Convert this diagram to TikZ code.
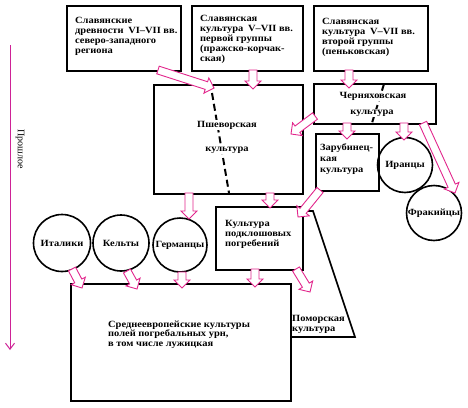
\documentclass[tikz,border=0pt]{standalone}
\usepackage{fontspec}
\setmainfont{Liberation Serif}
\newfontfamily\labfont[FakeStretch=1.1]{Liberation Serif}
\usetikzlibrary{calc,arrows.meta}
\definecolor{arr}{RGB}{226,38,140}
\definecolor{tlc}{RGB}{206,34,150}
\tikzset{
  lab/.style={font=\labfont\fontsize{9.5}{10}\selectfont\bfseries},
  box/.style={draw, line width=1.6pt, inner sep=0pt, anchor=north west},
  circ/.style={draw, circle, line width=1.6pt, inner sep=0pt, lab},
  txt/.style={inner sep=0pt, align=left, anchor=north west, lab},
  ctxt/.style={inner sep=1pt, fill=white, lab},
  barrow/.style={draw=arr, fill=white, line width=0.9pt, line join=miter},
  dashline/.style={line width=2pt, dash pattern=on 7pt off 4pt},
  timeline/.style={draw=tlc, line width=1pt, -{Straight Barb[length=6pt,width=9pt]}},
}
\newcommand\blockarrow[2]{%
  \draw[barrow] let \p1=($(#2)-(#1)$), \n1={atan2(\y1,\x1)}, \n2={veclen(\x1,\y1)} in
  ($(#1)+(\n1+90:4pt)$) -- ++(\n1:\n2-8pt) -- ++(\n1+90:4pt) -- (#2)
  -- ($(#1)+(\n1-90:8pt)+(\n1:\n2-8pt)$) -- ++(\n1+90:4pt) -- ($(#1)+(\n1-90:4pt)$) -- cycle;}
\begin{document}
\begin{tikzpicture}[x=1pt,y=-1pt]
\useasboundingbox (0,0) rectangle (468,407);
% timeline
\coordinate (tla) at (10,45);
\coordinate (tlb) at (10,350);
\draw[timeline] (tla) -- (tlb);
\node[rotate=-90, inner sep=0pt, font=\fontsize{10}{11}\selectfont] (tlt) at (20,149) {Прошлое};
% boxes
\node[box, minimum width=114pt, minimum height=65pt] (b1) at (66,5) {};
\node[box, minimum width=111pt, minimum height=65pt] (b2) at (191,5) {};
\node[box, minimum width=114pt, minimum height=65pt] (b3) at (313,5) {};
\node[box, minimum width=149pt, minimum height=109pt] (psh) at (153,84) {};
\node[box, minimum width=122pt, minimum height=40pt] (cher) at (313,83) {};
\node[box, minimum width=63pt, minimum height=57pt] (zar) at (315,133) {};
\node[box, minimum width=87pt, minimum height=63pt] (pod) at (215,206) {};
\node[box, minimum width=220pt, minimum height=117pt] (big) at (70,283) {};
% pomorska shape
\coordinate (pm1) at (302,211);
\coordinate (pm2) at (313,211);
\coordinate (pm3) at (355,337);
\coordinate (pm4) at (290,337);
\draw[line width=1.6pt, line join=miter] (pm1) -- (pm2) -- (pm3) -- (pm4);
% circles
\node[circ, minimum size=55pt] (ir) at (405,165) {Иранцы};
\node[circ, minimum size=55pt] (fr) at (434,213) {Фракийцы};
\node[circ, minimum size=57pt] (it) at (62,243) {Италики};
\node[circ, minimum size=56pt] (ke) at (121,243) {Кельты};
\node[circ, minimum size=54pt] (ge) at (180,245) {Германцы};
% dashed lines
\coordinate (d1a) at (212,93);
\coordinate (d1b) at (229,193);
\draw[dashline] (d1a) -- (d1b);
\coordinate (d2a) at (384,84);
\coordinate (d2b) at (372,123);
\draw[dashline] (d2a) -- (d2b);
% texts
\node[txt] (t1) at (75,17.5) {Славянские\\древности\enspace VI–VII вв.\\северо-западного\\региона};
\node[txt] (t2) at (200,15.5) {Славянская\\культура\enspace V–VII вв.\\первой группы\\(пражско-корчак-\\ская)};
\node[txt] (t3) at (322,18.5) {Славянская\\культура\enspace V–VII вв.\\второй группы\\(пеньковская)};
\node[ctxt] (pt1) at (227,125) {Пшеворская};
\node[ctxt] (pt2) at (227,150) {культура};
\node[ctxt] (ct1) at (373,96) {Черняховская};
\node[ctxt] (ct2) at (372,113) {культура};
\node[txt, font=\labfont\fontsize{9.5}{11}\selectfont\bfseries] (zt) at (320,143.5) {Зарубинец-\\кая\\культура};
\node[txt] (podt) at (225,220.5) {Культура\\подклошовых\\погребений};
\node[txt, font=\labfont\fontsize{9.5}{9.5}\selectfont\bfseries] (bigt) at (108,320.5) {Среднеевропейские культуры\\полей погребальных урн,\\в том числе лужицкая};
\node[txt] (pmt) at (292,315.5) {Поморская\\культура};
% arrows
\coordinate (a1s) at (158,70);  \coordinate (a1e) at (214,88);
\coordinate (a2s) at (253,70);  \coordinate (a2e) at (253,89);
\coordinate (a3s) at (349,70);  \coordinate (a3e) at (349,88);
\coordinate (a4s) at (315,116); \coordinate (a4e) at (291,134);
\coordinate (a5s) at (347,123); \coordinate (a5e) at (347,139);
\coordinate (a6s) at (404,123); \coordinate (a6e) at (404,140);
\coordinate (a7s) at (423,123); \coordinate (a7e) at (455,193);
\coordinate (a8s) at (320,190); \coordinate (a8e) at (298,217);
\coordinate (a9s) at (189,193); \coordinate (a9e) at (189,219);
\coordinate (a10s) at (270,193); \coordinate (a10e) at (270,208);
\coordinate (a11s) at (72,269); \coordinate (a11e) at (82,288);
\coordinate (a12s) at (127,271); \coordinate (a12e) at (137,289);
\coordinate (a13s) at (182,272); \coordinate (a13e) at (182,288);
\coordinate (a14s) at (255,269); \coordinate (a14e) at (255,287);
\coordinate (a15s) at (296,269); \coordinate (a15e) at (310,292);
\blockarrow{a1s}{a1e}
\blockarrow{a2s}{a2e}
\blockarrow{a3s}{a3e}
\blockarrow{a4s}{a4e}
\blockarrow{a5s}{a5e}
\blockarrow{a6s}{a6e}
\blockarrow{a7s}{a7e}
\blockarrow{a8s}{a8e}
\blockarrow{a9s}{a9e}
\blockarrow{a10s}{a10e}
\blockarrow{a11s}{a11e}
\blockarrow{a12s}{a12e}
\blockarrow{a13s}{a13e}
\blockarrow{a14s}{a14e}
\blockarrow{a15s}{a15e}
\end{tikzpicture}
\end{document}
